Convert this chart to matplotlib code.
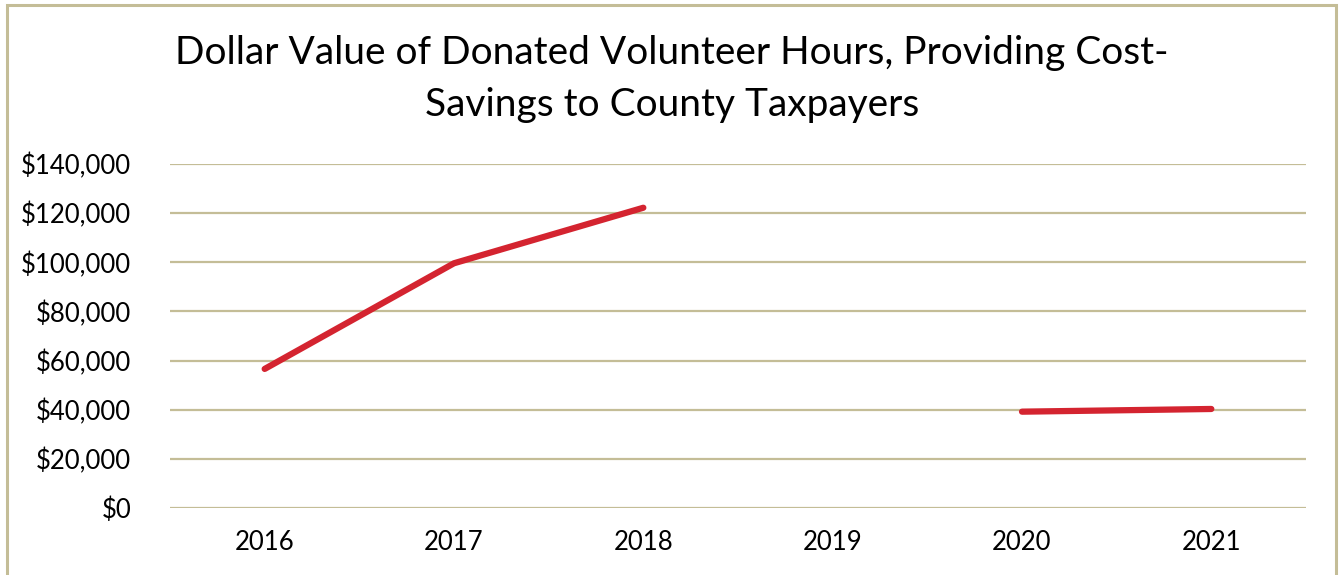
import numpy as np
import matplotlib

matplotlib.use('Agg')
import matplotlib.pyplot as plt
from matplotlib.patches import Rectangle
from matplotlib.ticker import FuncFormatter

years = ['2016', '2017', '2018', '2019', '2020', '2021']
dollar_value = [56600, 99600, 122200, np.nan, 39200, 40300]  # no 2019 figure

TAN = '#C4BD97'
RED = '#D42430'

plt.rcParams['font.family'] = ['Lato', 'DejaVu Sans']

fig = plt.figure(figsize=(13.43, 5.75), dpi=100)
ax = fig.add_axes([170 / 1343, 67 / 575, 1136 / 1343, 344 / 575])

x = np.arange(len(years))
ax.plot(x, dollar_value, color=RED, linewidth=4.5, solid_capstyle='round', zorder=3)

ax.set_xlim(-0.5, len(years) - 0.5)
ax.set_ylim(0, 140000)
ax.set_yticks(np.arange(0, 140001, 20000))
ax.yaxis.set_major_formatter(FuncFormatter(lambda v, _: f'${v:,.0f}'))
ax.set_xticks(x)
ax.set_xticklabels(years)
ax.tick_params(length=0, labelsize=18.5, colors='black')
ax.tick_params(axis='x', pad=16)
ax.tick_params(axis='y', pad=28)
ax.grid(axis='y', color=TAN, linewidth=1.6, zorder=1)
ax.set_axisbelow(True)
for s in ax.spines.values():
    s.set_visible(False)

fig.text(672 / 1343, 1 - 79 / 575,
         'Dollar Value of Donated Volunteer Hours, Providing Cost-\nSavings to County Taxpayers',
         ha='center', va='center', fontsize=28, linespacing=1.52)

# frame around the whole chart area
fig.patches.append(Rectangle((7 / 1343, -0.05), 1329 / 1343, 1.05 - 5 / 575,
                             transform=fig.transFigure, fill=False,
                             edgecolor=TAN, linewidth=2.2))

fig.savefig('out.png', dpi=100)
